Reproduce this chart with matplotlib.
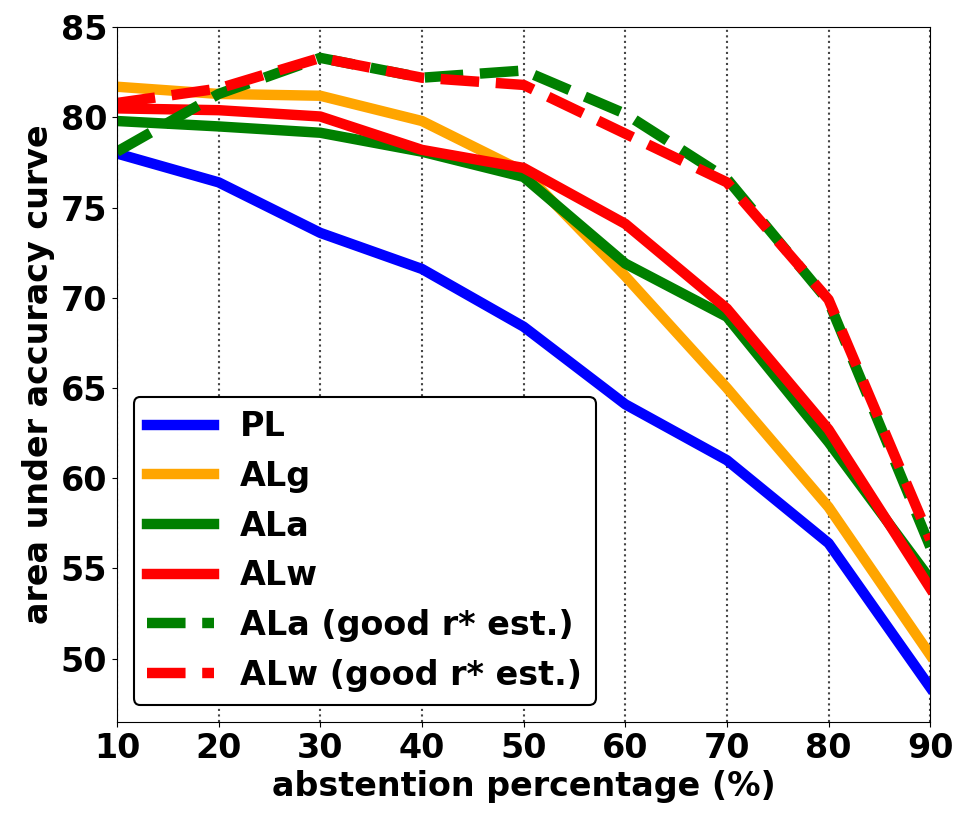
import matplotlib
matplotlib.use('Agg')
import matplotlib.pyplot as plt

# abstention percentages
abstention = [10, 20, 30, 40, 50, 60, 70, 80, 90]

# area under accuracy curve for each method
pl = [78.0, 76.4, 73.6, 71.6, 68.4, 64.1, 61.0, 56.4, 48.4]
alg = [81.7, 81.3, 81.2, 79.8, 77.0, 71.2, 65.0, 58.4, 50.2]
ala = [79.8, 79.5, 79.15, 78.1, 76.7, 71.9, 68.95, 62.0, 54.4]
alw = [80.5, 80.4, 80.05, 78.2, 77.2, 74.1, 69.4, 62.7, 53.9]
ala_good = [78.1, 81.3, 83.3, 82.2, 82.6, 80.2, 76.6, 69.8, 56.2]
alw_good = [80.8, 81.6, 83.3, 82.2, 81.8, 79.1, 76.4, 69.9, 56.6]

y_ticks = [50, 55, 60, 65, 70, 75, 80, 85]

plt.rcParams['font.family'] = ['DejaVu Sans']
plt.rcParams['font.weight'] = 'bold'

fig = plt.figure(figsize=(9.69, 8.24), dpi=100)
ax = fig.add_axes([0.1207, 0.124, 0.8393, 0.843])

lw = 7.5
ax.plot(abstention, pl, color='blue', lw=lw, label='PL')
ax.plot(abstention, alg, color='orange', lw=lw, label='ALg')
ax.plot(abstention, ala, color='green', lw=lw, label='ALa')
ax.plot(abstention, alw, color='red', lw=lw, label='ALw')
ax.plot(abstention, ala_good, color='green', lw=lw, ls='--', label='ALa (good r* est.)')
ax.plot(abstention, alw_good, color='red', lw=lw, ls='--', label='ALw (good r* est.)')

ax.set_xlim(10, 90)
ax.set_ylim(46.5, 85)
ax.set_xticks(abstention)
ax.set_yticks(y_ticks)
ax.tick_params(labelsize=24)
for lbl in ax.get_xticklabels() + ax.get_yticklabels():
    lbl.set_fontweight('bold')

# dotted vertical grid only
ax.xaxis.grid(True, linestyle=':', color='#444444', lw=1.5)
ax.yaxis.grid(False)

ax.set_xlabel('abstention percentage (%)', fontsize=24, fontweight='bold')
ax.set_ylabel('area under accuracy curve', fontsize=24, fontweight='bold')

leg = ax.legend(loc='lower left', fontsize=24, handlelength=2.0,
                frameon=True, fancybox=True, framealpha=1)
leg.get_frame().set_edgecolor('black')
leg.get_frame().set_linewidth(1.5)
for t in leg.get_texts():
    t.set_fontweight('bold')

plt.savefig('out.png', dpi=100)
